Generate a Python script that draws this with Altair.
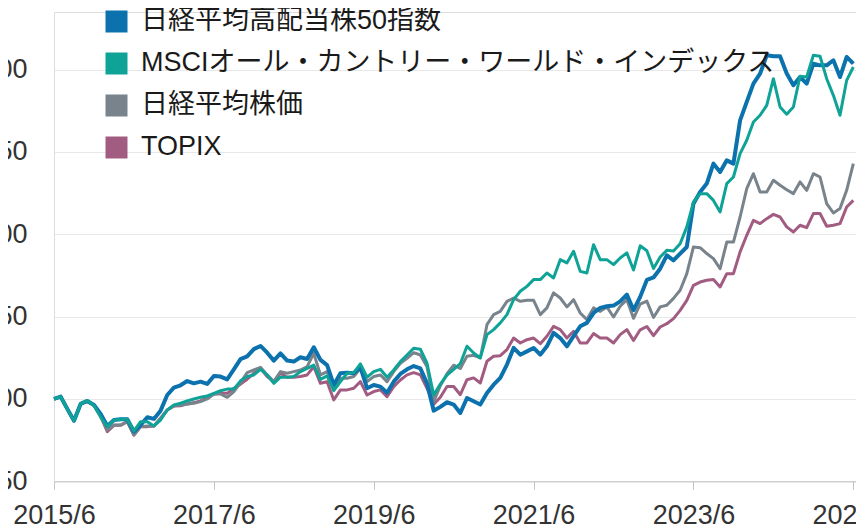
import json
import altair as alt
import pandas as pd

# ---- data (monthly, 2015/6 .. 2025/6, index = 100 at start) ----
months = list(range(121))
tick_values = [0, 24, 48, 72, 96, 120]
tick_labels = ["2015/6", "2017/6", "2019/6", "2021/6", "2023/6", "2025/6"]
y_ticks = [50, 100, 150, 200, 250, 300]

series_names = [
    "日経平均高配当株50指数",
    "MSCIオール・カントリー・ワールド・インデックス",
    "日経平均株価",
    "TOPIX",
]
series_colors = ["#0b72ae", "#0fa398", "#78838b", "#a25c81"]

high_div = [100, 101.4, 94, 86.8, 97, 98.8, 96.4, 90.9, 83.6, 87.2,
            87.7, 87.7, 80.2, 84.2, 88.9, 87.9, 92.9, 102.4, 106.9, 108.3,
            110.9, 109.5, 110.5, 109.1, 114, 113.6, 111.9, 118, 124.2, 125.9,
            130.3, 132.2, 128.1, 123.3, 127.7, 123.3, 122.7, 125.3, 124.3, 131.4,
            123.7, 120.6, 108.5, 115.6, 116, 115.6, 119.2, 106.5, 108.5, 107.5,
            103.8, 110.5, 115.2, 118, 120, 118.6, 109.5, 92.9, 95.2, 98,
            96.6, 91.5, 100.6, 98.6, 96.6, 103.6, 108.7, 112.8, 120.9, 131,
            126.9, 128.9, 131, 126.9, 132, 140.1, 137, 132, 138.1, 144.1,
            146.2, 152.2, 155.3, 156.3, 156.7, 159.3, 163.4, 154, 162, 172.3,
            173.8, 179.1, 187.2, 184.2, 188.3, 192.3, 218.6, 225.7, 230.8, 242.9,
            237.9, 244.9, 242.9, 269.2, 280.4, 291.5, 297.6, 308.7, 308.1, 308.1,
            297.6, 290.5, 295.5, 291.5, 303.6, 302.6, 302.6, 305.7, 295.5, 307.7,
            303.6]

msci_acwi = [100, 101.4, 94, 86.8, 97, 99, 96, 89, 83.2, 87.2,
             87.7, 87.7, 80.6, 86.2, 86.2, 83.6, 87.2, 93.3, 96.4, 97.4,
             98.8, 100, 101, 101.8, 103.4, 105, 106, 106, 111, 113.6,
             114.6, 118, 114.6, 109.5, 113.2, 113.2, 113.6, 116.6, 118.6, 120.6,
             111.9, 114, 105, 110.5, 115.6, 116, 121.3, 113.2, 116.6, 118,
             113.2, 117.6, 122.7, 126.7, 130.8, 130.2, 121.7, 102.4, 109, 114.5,
             118, 121.5, 132, 127.9, 124.9, 139.1, 142.1, 146.2, 151.2, 160.3,
             165.4, 168.4, 172.5, 172.5, 176.5, 173.5, 184.6, 182.6, 189.7, 177.5,
             176.5, 193.7, 184.6, 184.6, 181.6, 185.6, 188.7, 178.3, 193, 190,
             179.3, 186.2, 190.3, 189.9, 194.3, 204.5, 219.6, 224.7, 224.7, 220.6,
             213.6, 230.8, 234.8, 249, 257.1, 268.2, 272.3, 278.3, 294.5, 277.3,
             272.9, 277.3, 296, 295.5, 308.7, 308.1, 294.5, 284.4, 272.3, 293.5,
             301.6]

nikkei225 = [100, 101.4, 94, 86.8, 97, 98.5, 96, 89.5, 81.2, 84.2,
             84.2, 86.2, 78.1, 83.2, 83.6, 83.6, 88.3, 93.3, 95.7, 96.4,
             97, 97.4, 98.4, 100, 103, 103, 101, 104.5, 110, 116,
             117.6, 119.2, 114.6, 110.5, 116.6, 115.6, 116.6, 117.6, 119.6, 127.7,
             114.6, 116.6, 107.5, 112.6, 112.6, 113.6, 118.6, 110.5, 113.6, 114.6,
             110.5, 116.6, 121.7, 124.7, 128.1, 126.7, 119.6, 98.4, 108, 115.3,
             120.5, 118.5, 126, 126.5, 124.9, 145.1, 151.2, 153.2, 159.3, 161.3,
             159.3, 159.9, 159.9, 151.2, 155.3, 164.4, 161.3, 155.9, 160.3, 152.2,
             148.2, 155.3, 153.2, 155.9, 149.8, 156.3, 160.3, 149, 157.6, 159.4,
             149.5, 155.9, 156.9, 161.1, 166, 176.1, 192.3, 191.9, 188.3, 185.2,
             179.1, 195.3, 195.3, 210.5, 227.7, 236.8, 225.7, 225.7, 232.8, 229.8,
             227.1, 224.7, 231.8, 226.7, 236.8, 234.8, 218.6, 213, 215.6, 226.7,
             242.9]

topix = [100, 101.4, 94, 86.8, 97, 98.5, 96, 89.5, 80.2, 84,
         84, 86.2, 78.1, 83.2, 83.2, 83.6, 88.3, 93.3, 95.7, 95.9,
         97, 97.8, 98.8, 101, 103, 103.4, 103.4, 106.5, 109, 112,
         115.6, 118.6, 113.6, 110.5, 115.6, 113.2, 113.2, 113.6, 114.6, 119.6,
         109.5, 110.5, 99.4, 105.5, 105.5, 106.5, 110.5, 102.4, 104.5, 105.5,
         101.4, 107.5, 111.5, 114.6, 116, 114.6, 106.5, 96.8, 101, 107.6,
         107.6, 102.6, 111.7, 112.8, 109.7, 122.9, 125.9, 126.3, 130, 137,
         134, 136, 137, 133.6, 138.1, 144.1, 142.1, 137, 141.1, 134,
         134, 139.7, 137, 137, 134, 139.1, 142.1, 135.5, 142, 144,
         138.5, 143.7, 145.7, 148.8, 153.8, 159.9, 169, 171, 172.1, 172.5,
         168, 176.1, 176.1, 189.3, 199.4, 208.5, 206.5, 209.5, 212.1, 210.5,
         204.5, 201.4, 205.5, 204, 212.6, 212.6, 204.9, 205.5, 206.5, 216.6,
         220.6]

values_by_series = dict(zip(series_names, [high_div, msci_acwi, nikkei225, topix]))

FONT = "Liberation Sans, Noto Sans CJK JP"
LABEL_COLOR = "#333333"

x_enc = alt.X(
    "month:Q",
    scale=alt.Scale(domain=[0, 120.4], nice=False, zero=False),
    axis=alt.Axis(
        values=tick_values,
        labelExpr=json.dumps(tick_labels) + "[round(datum.value / 24)]",
        title=None, grid=False,
        domainColor="#c4c4c4", tickColor="#c4c4c4", tickSize=8, tickWidth=1,
        labelFontSize=27, labelFont=FONT, labelColor=LABEL_COLOR,
        labelPadding=13, labelFlush=False, labelOverlap=False,
    ),
)
y_enc = alt.Y(
    "value:Q",
    scale=alt.Scale(domain=[50, 335], nice=False, zero=False),
    axis=alt.Axis(
        values=y_ticks, title=None, domain=False, ticks=False,
        grid=True, gridColor="#e8e8e8", gridWidth=1,
        labelFontSize=27, labelFont=FONT, labelColor=LABEL_COLOR,
        labelPadding=27,
    ),
)
color_scale = alt.Scale(domain=series_names, range=series_colors)

layers = []
# legend carrier: filled squares, no drawable rows (value is null)
legend_df = pd.DataFrame({"series": series_names, "month": [0] * 4, "value": [None] * 4})
layers.append(
    alt.Chart(legend_df).mark_square(filled=True, opacity=1).encode(
        x=x_enc, y=y_enc,
        color=alt.Color(
            "series:N", scale=color_scale,
            legend=alt.Legend(
                title=None, orient="none", legendX=49, legendY=-4,
                symbolType="square", symbolSize=484, symbolStrokeWidth=0,
                symbolOpacity=1,
                labelFontSize=27, labelFont=FONT, labelColor="#1a1a1a",
                labelLimit=0, labelOffset=11, rowPadding=14, padding=0,
            ),
        ),
    )
)

draw_order = ["TOPIX", "日経平均株価", "日経平均高配当株50指数",
              "MSCIオール・カントリー・ワールド・インデックス"]
widths = {"TOPIX": 3, "日経平均株価": 3, "日経平均高配当株50指数": 4,
          "MSCIオール・カントリー・ワールド・インデックス": 3}
for name in draw_order:
    df = pd.DataFrame({"month": months, "value": values_by_series[name], "series": name})
    layers.append(
        alt.Chart(df).mark_line(strokeWidth=widths[name], strokeJoin="round").encode(
            x=x_enc, y=y_enc,
            color=alt.Color("series:N", scale=color_scale, legend=None),
        )
    )

chart = alt.layer(*layers).properties(
    width=802,
    height=469.3,
    autosize=alt.AutoSizeParams(type="none"),
    padding={"left": 46, "top": 4, "right": 0, "bottom": 50},
).configure_view(strokeWidth=0).configure(background="white")

chart.save("out.html", embed_options={"renderer": "svg", "actions": False})
